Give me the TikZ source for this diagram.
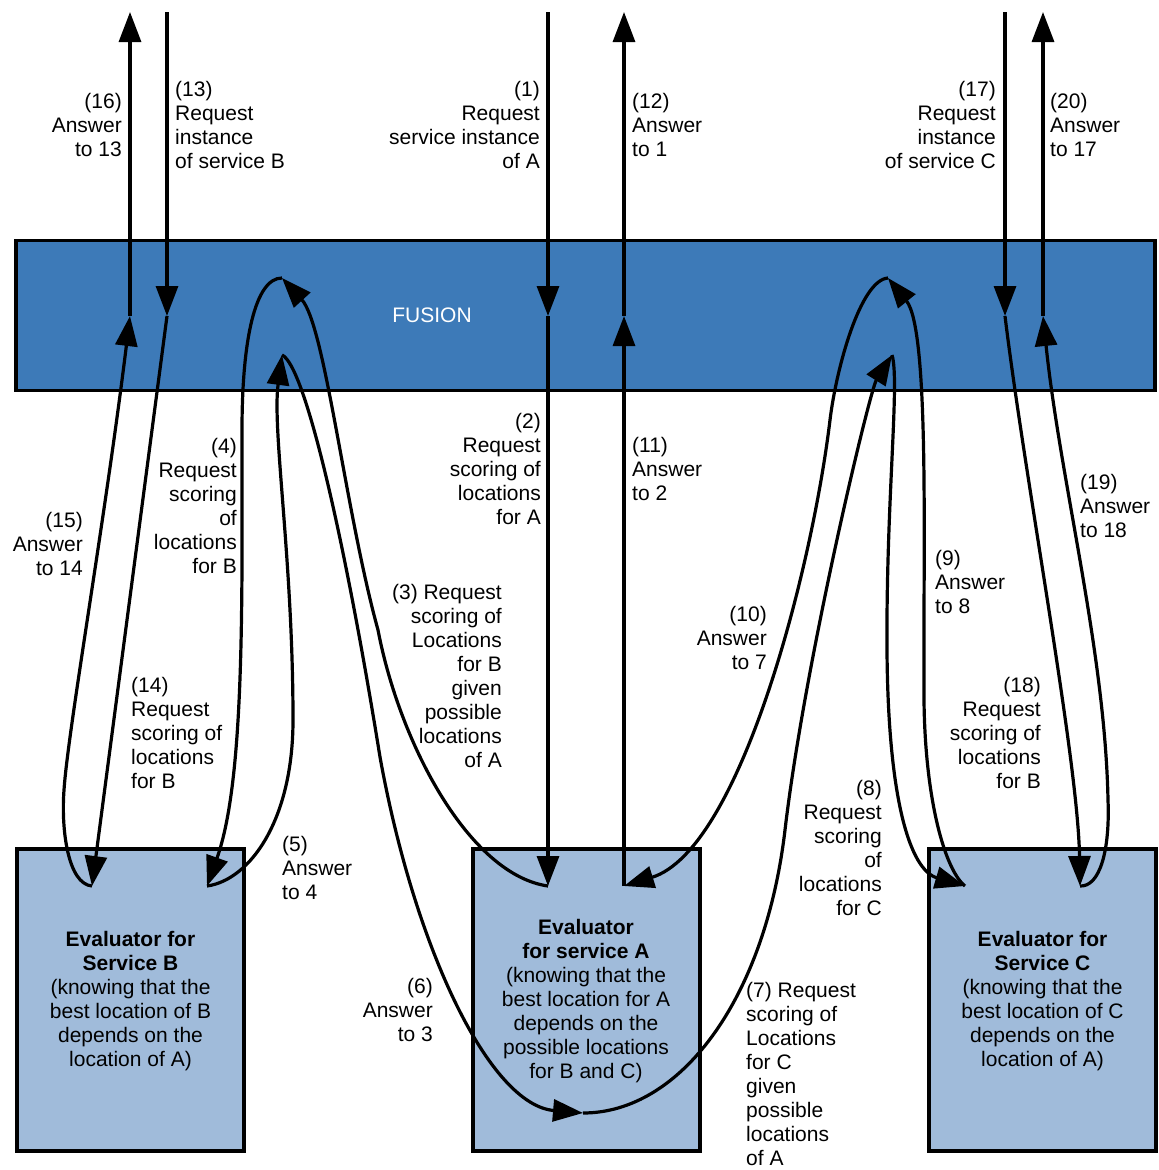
\documentclass[tikz,border=0pt]{standalone}
\usepackage{fontspec}
\setmainfont{Liberation Sans}
\usetikzlibrary{arrows.meta}
\definecolor{fusionblue}{RGB}{61,122,184}
\definecolor{evalblue}{RGB}{160,187,218}

\begin{document}
\begin{tikzpicture}[x=1pt,y=-1pt,
  flow/.style={line width=3.2pt, -{Triangle[length=30pt,width=22pt]}},
  lbl/.style={inner sep=0pt, font=\fontsize{21}{24}\selectfont},
  lblr/.style={lbl, align=right, anchor=north east},
  lbll/.style={lbl, align=left, anchor=north west},
  fusionbox/.style={draw, line width=3.5pt, fill=fusionblue, inner sep=0pt,
    minimum width=1139pt, minimum height=150pt},
  evalbox/.style={draw, line width=4pt, fill=evalblue, inner sep=0pt,
    minimum width=227pt, minimum height=302pt},
  evaltext/.style={lbl, align=center, anchor=north},
]
\useasboundingbox (0,0) rectangle (1159,1170);

% blocks
\node[fusionbox] (fusion) at (585.5,315.5) {};
\node[lbl, text=white, anchor=center] (fusionlabel) at (432,315) {FUSION};
\node[evalbox] (evB) at (130.5,1000) {};
\node[evalbox] (evA) at (586,1000) {};
\node[evalbox] (evC) at (1042.5,1000) {};

% free ends above the fusion block
\coordinate (tB1) at (130,12);
\coordinate (tB2) at (167,12);
\coordinate (tA1) at (548,12);
\coordinate (tA2) at (624,12);
\coordinate (tC1) at (1005,12);
\coordinate (tC2) at (1043,12);
% ports in the fusion block
\coordinate (fB1) at (130,316);
\coordinate (fB2) at (167,316);
\coordinate (fA1) at (548,316);
\coordinate (fA2) at (624,316);
\coordinate (fC1) at (1005,316);
\coordinate (fC2) at (1043,316);
\coordinate (fBo) at (282,278);
\coordinate (fBi) at (282,355);
\coordinate (fCo) at (888,278);
\coordinate (fCi) at (892,355);
% ports in the evaluators
\coordinate (bL) at (92,886);
\coordinate (bR) at (207,886);
\coordinate (aL) at (548,886);
\coordinate (aR) at (624,886);
\coordinate (aBot) at (583,1113);
\coordinate (cL) at (965,886);
\coordinate (cR) at (1080,886);

% message flows
\draw[flow] (tA1) -- (fA1);                                  % (1)
\draw[flow] (fA1) -- (aL);                                   % (2)
\draw[flow] (aL) .. controls (470,875) and (400,745) .. (378,630)
  .. controls (345,510) and (325,325) .. (fBo);              % (3)
\draw[flow] (fBo) .. controls (255,278) and (242,340) .. (242,430)
  .. controls (242,600) and (245,780) .. (bR);               % (4)
\draw[flow] (bR) .. controls (250,880) and (293,820) .. (293,720)
  .. controls (293,560) and (272,430) .. (fBi);              % (5)
\draw[flow] (fBi) .. controls (305,365) and (345,540) .. (380,757)
  .. controls (415,950) and (490,1105) .. (aBot);            % (6)
\draw[flow] (aBot) .. controls (680,1113) and (765,1000) .. (785,830)
  .. controls (805,660) and (870,390) .. (fCi);              % (7)
\draw[flow] (fCi) .. controls (900,380) and (886,500) .. (887,650)
  .. controls (888,800) and (910,870) .. (cL);               % (8)
\draw[flow] (cL) .. controls (945,870) and (925,800) .. (924,700)
  .. controls (923,550) and (930,330) .. (fCo);              % (9)
\draw[flow] (fCo) .. controls (860,280) and (836,370) .. (830,420)
  .. controls (812,570) and (740,850) .. (aR);               % (10)
\draw[flow] (aR) -- (fA2);                                   % (11)
\draw[flow] (fA2) -- (tA2);                                  % (12)
\draw[flow] (tB2) -- (fB2);                                  % (13)
\draw[flow] (fB2) -- (bL);                                   % (14)
\draw[flow] (bL) .. controls (68,884) and (61,830) .. (64,790)
  .. controls (68,730) and (105,520) .. (fB1);               % (15)
\draw[flow] (fB1) -- (tB1);                                  % (16)
\draw[flow] (tC1) -- (fC1);                                  % (17)
\draw[flow] (fC1) .. controls (1025,480) and (1078,760) .. (cR); % (18)
\draw[flow] (cR) .. controls (1100,887) and (1110,850) .. (1108,800)
  .. controls (1105,650) and (1060,480) .. (fC2);            % (19)
\draw[flow] (fC2) -- (tC2);                                  % (20)

% flow labels
\node[lblr] (l1) at (540,79.2) {\strut(1)\\Request\\service instance\\of A};
\node[lblr] (l2) at (541,411.2) {\strut(2)\\Request\\scoring of\\locations\\for A};
\node[lblr] (l3) at (502,582.2) {\strut(3) Request\\scoring of\\Locations\\for B\\given\\possible\\locations\\of A};
\node[lblr] (l4) at (237,436.2) {\strut(4)\\Request\\scoring\\of\\locations\\for B};
\node[lbll] (l5) at (282,834.2) {\strut(5)\\Answer\\to 4};
\node[lblr] (l6) at (433,976.2) {\strut(6)\\Answer\\to 3};
\node[lbll] (l7) at (746,980.5) {\strut(7) Request\\scoring of\\Locations\\for C\\given\\possible\\locations\\of A};
\node[lblr] (l8) at (882,778.2) {\strut(8)\\Request\\scoring\\of\\locations\\for C};
\node[lbll] (l9) at (935,548.2) {\strut(9)\\Answer\\to 8};
\node[lblr] (l10) at (767,604.2) {\strut(10)\\Answer\\to 7};
\node[lbll] (l11) at (632,435.2) {\strut(11)\\Answer\\to 2};
\node[lbll] (l12) at (632,91.2) {\strut(12)\\Answer\\to 1};
\node[lbll] (l13) at (175,79.2) {\strut(13)\\Request\\instance\\of service B};
\node[lbll] (l14) at (131,675.2) {\strut(14)\\Request\\scoring of\\locations\\for B};
\node[lblr] (l15) at (83,510.2) {\strut(15)\\Answer\\to 14};
\node[lblr] (l16) at (122,91.2) {\strut(16)\\Answer\\to 13};
\node[lblr] (l17) at (996,79.2) {\strut(17)\\Request\\instance\\of service C};
\node[lblr] (l18) at (1041,675.2) {\strut(18)\\Request\\scoring of\\locations\\for B};
\node[lbll] (l19) at (1080,472.2) {\strut(19)\\Answer\\to 18};
\node[lbll] (l20) at (1050,91.2) {\strut(20)\\Answer\\to 17};

% evaluator descriptions
\node[evaltext] (evBtext) at (130.5,929.2) {\strut\textbf{Evaluator for}\\\textbf{Service B}\\(knowing that the\\best location of B\\depends on the\\location of A)};
\node[evaltext] (evAtext) at (586,917.9) {\strut\textbf{Evaluator}\\\textbf{for service A}\\(knowing that the\\best location for A\\depends on the\\possible locations\\for B and C)};
\node[evaltext] (evCtext) at (1042.5,929.2) {\strut\textbf{Evaluator for}\\\textbf{Service C}\\(knowing that the\\best location of C\\depends on the\\location of A)};
\end{tikzpicture}
\end{document}
